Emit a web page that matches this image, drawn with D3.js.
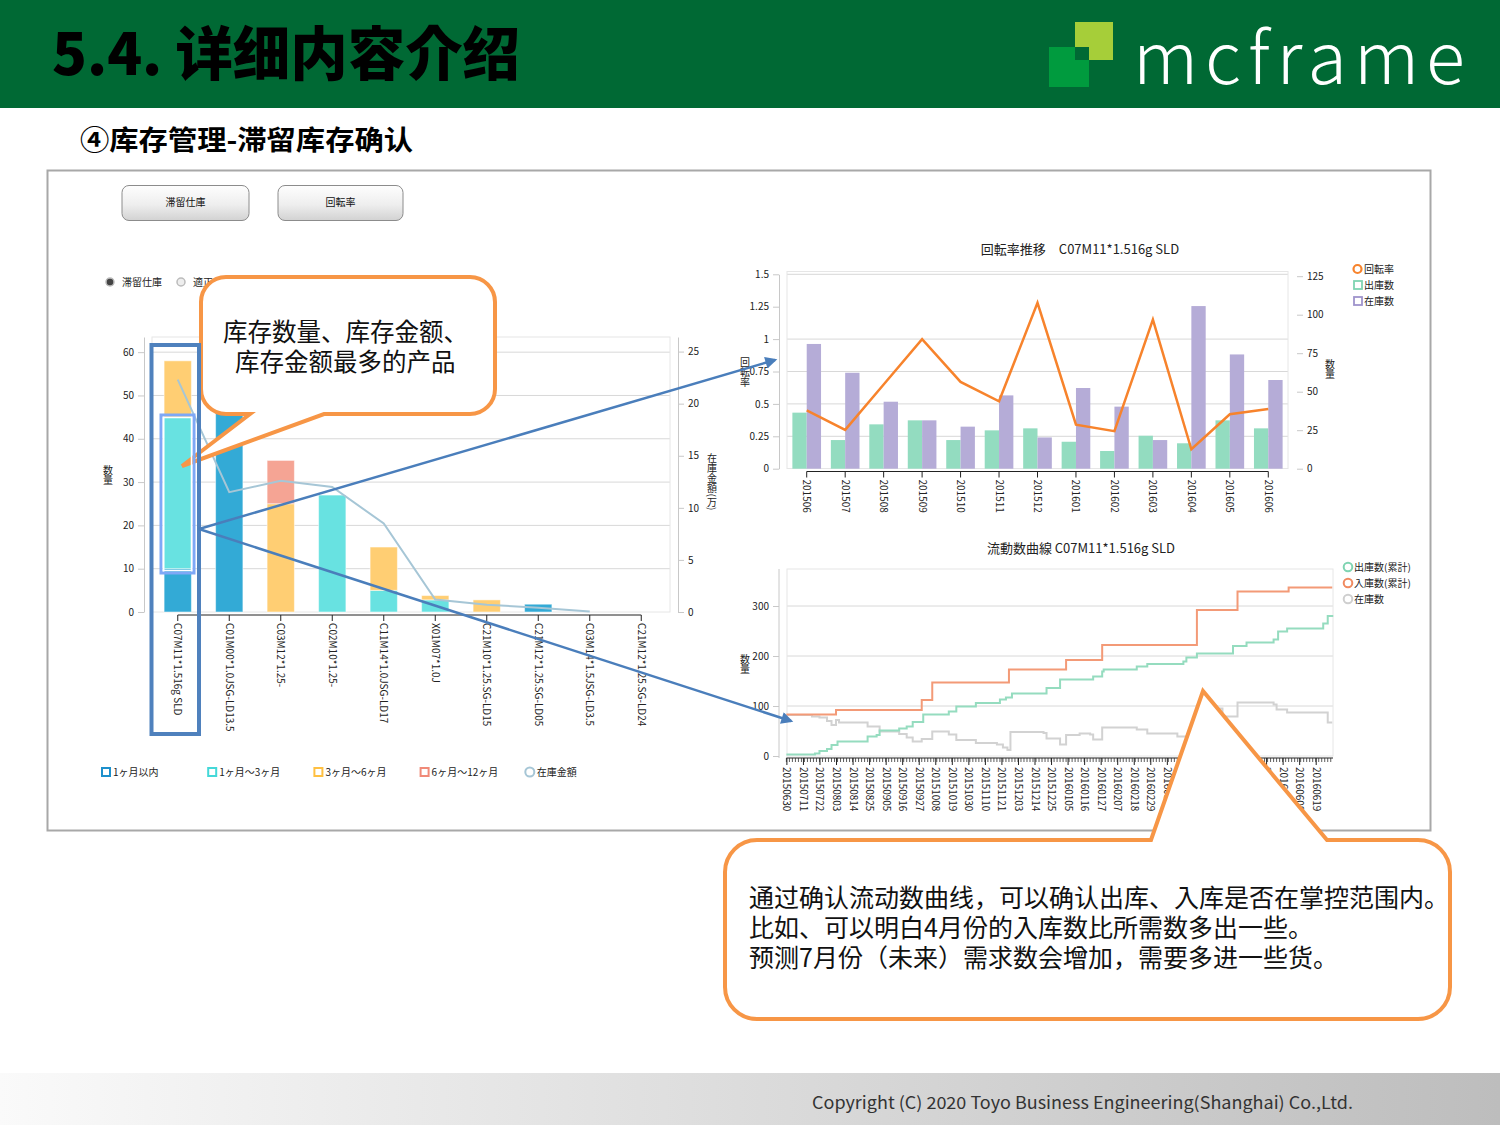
<!DOCTYPE html>
<html><head><meta charset="utf-8">
<script src="https://cdn.jsdelivr.net/npm/d3@7"></script>
<style>
html,body{margin:0;padding:0;background:#fff;}
svg{display:block;}
text{font-family:"Noto Sans CJK JP","Noto Sans CJK SC",sans-serif;}
</style></head><body>
<svg id="c" width="1500" height="1125"></svg>
<script>
// ================= DATA =================
// Left chart: 滞留在庫 (stacked by age) + 在庫金額 line
const stockCats = ["C07M11*1.516g SLD","C01M00*1.0JSG-LD13.5","C03M12*1.25-","C02M10*1.25-","C11M14*1.0JSG-LD17","X01M07*1.0J","C21M10*1.25.SG-LD15","C21M12*1.25.SG-LD05","C03M14*1.5JSG-LD3.5","C21M12*1.25.SG-LD24"];
const stockWithin1 = [10, 47, 0, 0, 0, 0, 0, 1.8, 0, 0];
const stock1to3   = [35, 0, 0, 27, 5, 2.8, 0, 0, 0, 0];
const stock3to6   = [13, 0, 25, 0, 10, 1.0, 2.8, 0, 0, 0];
const stock6to12  = [0, 0, 10, 0, 0, 0, 0, 0, 0, 0];
const stockAmount = [22.3, 11.5, 12.6, 12.0, 8.5, 1.2, 0.7, 0.4, 0.05, null];
const stockSeries = ["1ヶ月以内","1ヶ月～3ヶ月","3ヶ月～6ヶ月","6ヶ月～12ヶ月"];
const stockLineName = "在庫金額";
const qtyTicks = [0,10,20,30,40,50,60];
const amountTicks = [0,5,10,15,20,25];

// Top-right chart: 回転率推移
const months = ["201506","201507","201508","201509","201510","201511","201512","201601","201602","201603","201604","201605","201606"];
const shipped = [36.4, 18.6, 28.8, 31.4, 18.6, 24.9, 26.2, 17.5, 11.5, 21.4, 16.5, 31.4, 26.2];
const onHand  = [81, 62.3, 43.5, 31.4, 27.3, 47.6, 20.3, 52.4, 40.3, 18.6, 105.6, 74.2, 57.6];
const turnover = [0.45, 0.30, 0.65, 1.0, 0.67, 0.52, 1.28, 0.34, 0.29, 1.15, 0.15, 0.42, 0.46];
const rateTicks = [0,0.25,0.5,0.75,1,1.25,1.5];
const rateGrid = [0.25,0.5,0.75,1,1.5];
const monthQtyTicks = [0,25,50,75,100,125];
const turnSeries = ["回転率","出庫数","在庫数"];

// Bottom-right chart: 流動数曲線 (day index from 20150630)
const flowTickLabels = ["20150630","20150711","20150722","20150803","20150814","20150825","20150905","20150916","20150927","20151008","20151019","20151030","20151110","20151121","20151203","20151214","20151225","20160105","20160116","20160127","20160207","20160218","20160229","20160311","20160322","20160402","20160413","20160424","20160505","20160516","20160527","20160608","20160619"];
const inboundDays = [0,33,90,97,148,186,210,273,300,334,363];
const inboundCum  = [83,92,112,147,173,192,222,292,329,337,337];
const outboundDays = [0,19,22,27,30,34,54,60,62,75,80,84,91,108,113,126,142,146,150,173,182,204,210,211,233,240,264,266,273,297,306,324,327,333,357,360,363];
const outboundCum  = [3,5,10,14,22,29,39,42,51,55,59,68,83,89,99,106,113,117,125,136,153,159,169,173,179,184,189,197,205,220,227,233,249,255,265,280,282];
const stockDays = [0,17,22,27,30,33,35,54,62,75,80,84,90,97,108,113,126,140,144,147,149,171,173,182,186,195,202,204,210,233,240,260,266,273,290,300,324,326,333,357,360,363];
const stockQty  = [82,79,77,70,62,72,67,59,49,44,37,29,34,49,43,32,26,23,17,12,48,46,35,23,42,45,43,33,57,53,45,39,37,95,79,107,103,93,87,87,67,67];
const flowTicks = [0,100,200,300];
const flowSeries = ["出庫数(累計)","入庫数(累計)","在庫数"];

// ================= DRAW =================
const svg = d3.select("#c");
const defs = svg.append("defs");
const fg = defs.append("linearGradient").attr("id","footG").attr("x1",0).attr("x2",1).attr("y1",0).attr("y2",0);
fg.append("stop").attr("offset","0").attr("stop-color","#FAFAFA");
fg.append("stop").attr("offset","1").attr("stop-color","#BDBDBD");
const bgr = defs.append("linearGradient").attr("id","btnG").attr("x1",0).attr("x2",0).attr("y1",0).attr("y2",1);
bgr.append("stop").attr("offset","0").attr("stop-color","#FEFEFE");
bgr.append("stop").attr("offset","0.55").attr("stop-color","#EEEEEE");
bgr.append("stop").attr("offset","1").attr("stop-color","#D2D2D2");
defs.append("marker").attr("id","arr").attr("viewBox","0 0 10 10").attr("refX",8).attr("refY",5)
  .attr("markerWidth",15).attr("markerHeight",12).attr("markerUnits","userSpaceOnUse").attr("orient","auto")
  .append("path").attr("d","M0,0L10,5L0,10z").attr("fill","#4A7EBB");

// header
svg.append("rect").attr("width",1500).attr("height",108).attr("fill","#006934");
svg.append("text").attr("x",52).attr("y",75).attr("font-size",58).attr("font-weight",900)
  .attr("font-family",'"Noto Sans CJK SC",sans-serif').attr("fill","#000")
  .attr("textLength",468).attr("lengthAdjust","spacingAndGlyphs").text("5.4. 详细内容介绍");
svg.append("rect").attr("x",1075).attr("y",22).attr("width",38).attr("height",38).attr("fill","#A6CE39");
svg.append("rect").attr("x",1049).attr("y",47).attr("width",40).attr("height",40).attr("fill","#009B3E");
svg.append("rect").attr("x",1075).attr("y",47).attr("width",14).attr("height",13).attr("fill","#006934");
svg.append("text").attr("x",1133).attr("y",84).attr("font-size",72).attr("font-weight",300)
  .attr("font-family",'"Open Sans","Lato",sans-serif').attr("fill","#fff")
  .attr("letter-spacing",7).text("mcframe");

// subtitle
svg.append("text").attr("x",80).attr("y",150).attr("font-size",27).attr("font-weight",700)
  .attr("font-family",'"Noto Sans CJK SC",sans-serif').attr("fill","#000")
  .attr("textLength",333).attr("lengthAdjust","spacingAndGlyphs").text("④库存管理-滞留库存确认");

// frame
svg.append("rect").attr("x",47.5).attr("y",170.5).attr("width",1383).attr("height",660)
  .attr("fill","#fff").attr("stroke","#A8A8A8").attr("stroke-width",2);

// buttons
[["滞留仕庫",122,127],["回転率",278,125]].forEach(([t,x,w])=>{
  svg.append("rect").attr("x",x).attr("y",185.5).attr("width",w).attr("height",35).attr("rx",7)
    .attr("fill","url(#btnG)").attr("stroke","#8C8C8C");
  svg.append("text").attr("x",x+w/2).attr("y",206).attr("text-anchor","middle").attr("font-size",10).attr("fill","#111").text(t);
});
// radios
svg.append("circle").attr("cx",110).attr("cy",282).attr("r",4).attr("fill","#444").attr("stroke","#bbb").attr("stroke-width",1.5);
svg.append("text").attr("x",122).attr("y",286).attr("font-size",10).attr("fill","#222").text("滞留仕庫");
svg.append("circle").attr("cx",181).attr("cy",282).attr("r",4).attr("fill","#eee").attr("stroke","#bbb").attr("stroke-width",1.5);
svg.append("text").attr("x",193).attr("y",286).attr("font-size",10).attr("fill","#222").text("適正在庫");

function styleAxis(g, lineColor, fs){
  g.attr("font-family",'"Noto Sans CJK JP",sans-serif').attr("font-size",fs||10);
  g.selectAll(".domain").attr("stroke",lineColor);
  g.selectAll(".tick line").attr("stroke",lineColor);
  g.selectAll(".tick text").attr("fill","#222");
}
// vertical (upright CJK) text
function vtext(x, y, str, size){
  return svg.append("text").attr("x",x).attr("y",y).style("writing-mode","vertical-rl")
    .attr("text-anchor","middle").attr("font-size",size).attr("fill","#222").text(str);
}

// ---------- LEFT CHART ----------
const gL = svg.append("g");
const xL = d3.scaleBand().domain(stockCats).range([152,667]).paddingInner(0.47).paddingOuter(0.235);
const bwL = xL.bandwidth();
const yL = d3.scaleLinear().domain([0,63.5]).range([612,337]);
const yA = d3.scaleLinear().domain([0,26.4]).range([612,337]);
gL.selectAll(".gl").data(qtyTicks.filter(d=>d>0)).join("line")
  .attr("x1",152).attr("x2",670).attr("y1",d=>yL(d)).attr("y2",d=>yL(d)).attr("stroke","#D8D8D8");
gL.append("rect").attr("x",152).attr("y",337).attr("width",518).attr("height",275).attr("fill","none").attr("stroke","#E6E6E6");
const axL = gL.append("g").attr("transform","translate(144,0)")
  .call(d3.axisLeft(yL).tickValues(qtyTicks).tickSize(6).tickSizeOuter(0).tickPadding(4));
styleAxis(axL,"#C8C8C8");
const axA = gL.append("g").attr("transform","translate(678,0)")
  .call(d3.axisRight(yA).tickValues(amountTicks).tickSize(6).tickSizeOuter(0).tickPadding(4));
styleAxis(axA,"#C8C8C8");
vtext(108, 475, "数量", 10);
vtext(712, 482, "在庫金額(万)", 10);

const stockTable = stockCats.map((c,i)=>({cat:c,
  [stockSeries[0]]:stockWithin1[i],[stockSeries[1]]:stock1to3[i],
  [stockSeries[2]]:stock3to6[i],[stockSeries[3]]:stock6to12[i]}));
const stacked = d3.stack().keys(stockSeries)(stockTable);
const stockColors = ["#33AAD6","#68E2E1","#FFCE73","#F5A494"];
const legColors = ["#1E90CC","#44D8D8","#FFC042","#F08A78"];
gL.selectAll(".ser").data(stacked).join("g").attr("fill",(d,i)=>stockColors[i])
  .selectAll("rect").data(d=>d.filter(p=>p[1]-p[0]>0)).join("rect")
  .attr("x",d=>xL(d.data.cat)).attr("width",bwL)
  .attr("y",d=>yL(d[1])).attr("height",d=>yL(d[0])-yL(d[1]))
  .attr("stroke","#fff").attr("stroke-opacity",0.5).attr("stroke-width",1);
const amtLine = d3.line().defined(d=>d.v!=null).x(d=>xL(d.c)+bwL/2).y(d=>yA(d.v));
gL.append("path").datum(stockCats.map((c,i)=>({c,v:stockAmount[i]}))).attr("d",amtLine)
  .attr("fill","none").attr("stroke","#A6C6D6").attr("stroke-width",2);
const axXL = gL.append("g").attr("transform","translate(0,615)").call(d3.axisBottom(xL).tickSize(6).tickSizeOuter(0));
axXL.select(".domain").remove();
styleAxis(axXL,"#222");
axXL.selectAll(".tick text").attr("transform","rotate(90)").attr("x",8).attr("y",0).attr("dy","0.35em").style("text-anchor","start");
gL.append("line").attr("x1",xL(stockCats[0])+bwL/2).attr("x2",xL(stockCats[stockCats.length-1])+bwL/2)
  .attr("y1",615).attr("y2",615).attr("stroke","#222");
// legend
const legL = gL.selectAll(".lg").data([...stockSeries, stockLineName]).join("g")
  .attr("transform",(d,i)=>`translate(${101+i*106.2},772)`);
legL.each(function(d,i){
  const g = d3.select(this);
  if(i<4) g.append("rect").attr("x",1).attr("y",-4).attr("width",8).attr("height",8).attr("fill","none").attr("stroke",legColors[i]).attr("stroke-width",2);
  else g.append("circle").attr("cx",4).attr("cy",0).attr("r",4.5).attr("fill","none").attr("stroke","#A6C6D6").attr("stroke-width",2);
  g.append("text").attr("x",i<4?12:11).attr("y",4).attr("font-size",10).attr("fill","#222").text(d);
});

// ---------- TOP-RIGHT CHART ----------
const gT = svg.append("g");
const xM = d3.scaleBand().domain(months).range([787,1288]).paddingInner(0.255).paddingOuter(0.14);
const bwM = xM.bandwidth();
const xSub = d3.scaleBand().domain(["out","on"]).range([0,bwM]);
const yRate = d3.scaleLinear().domain([0,1.5]).range([468.7,274.3]);
const yQty = d3.scaleLinear().domain([0,125]).range([468.7,276.2]);
gT.append("text").attr("x",1080).attr("y",254).attr("text-anchor","middle").attr("font-size",13).attr("fill","#222")
  .text("回転率推移　C07M11*1.516g SLD");
gT.selectAll(".gr").data(rateGrid).join("line").attr("x1",787).attr("x2",1288)
  .attr("y1",d=>yRate(d)).attr("y2",d=>yRate(d)).attr("stroke","#D8D8D8");
gT.append("rect").attr("x",787).attr("y",271.5).attr("width",501).attr("height",197).attr("fill","none").attr("stroke","#E6E6E6");
const axR = gT.append("g").attr("transform","translate(779,0)")
  .call(d3.axisLeft(yRate).tickValues(rateTicks).tickFormat(d=>String(d)).tickSize(6).tickSizeOuter(0).tickPadding(4));
styleAxis(axR,"#C8C8C8");
const axQ = gT.append("g").attr("transform","translate(1297,0)")
  .call(d3.axisRight(yQty).tickValues(monthQtyTicks).tickSize(6).tickSizeOuter(0).tickPadding(4));
axQ.select(".domain").remove();
styleAxis(axQ,"#C8C8C8");
vtext(745, 372, "回転率", 10);
vtext(1330, 369, "数量", 10);
gT.selectAll(".bs").data(months).join("rect").attr("x",d=>xM(d)+xSub("out")).attr("width",xSub.bandwidth())
  .attr("y",(d,i)=>yQty(shipped[i])).attr("height",(d,i)=>yQty(0)-yQty(shipped[i])).attr("fill","#93DCC0");
gT.selectAll(".bo").data(months).join("rect").attr("x",d=>xM(d)+xSub("on")).attr("width",xSub.bandwidth())
  .attr("y",(d,i)=>yQty(onHand[i])).attr("height",(d,i)=>yQty(0)-yQty(onHand[i])).attr("fill","#B5ACD7");
gT.append("path").datum(months.map((m,i)=>({m,v:turnover[i]})))
  .attr("d",d3.line().x(d=>xM(d.m)+bwM/2).y(d=>yRate(d.v)))
  .attr("fill","none").attr("stroke","#F7832C").attr("stroke-width",2.5);
const axXM = gT.append("g").attr("transform","translate(0,471.5)").call(d3.axisBottom(xM).tickSize(6).tickSizeOuter(0));
axXM.select(".domain").remove();
styleAxis(axXM,"#222");
axXM.selectAll(".tick text").attr("transform","rotate(90)").attr("x",8).attr("y",0).attr("dy","0.35em").style("text-anchor","start");
gT.append("line").attr("x1",xM(months[0])+bwM/2).attr("x2",xM(months[months.length-1])+bwM/2)
  .attr("y1",471.5).attr("y2",471.5).attr("stroke","#222");
const legT = gT.selectAll(".lt").data(turnSeries).join("g").attr("transform",(d,i)=>`translate(1353,${269+i*16})`);
legT.each(function(d,i){
  const g = d3.select(this);
  if(i===0) g.append("circle").attr("cx",4.5).attr("cy",0).attr("r",4).attr("fill","none").attr("stroke","#F7832C").attr("stroke-width",2.2);
  else g.append("rect").attr("x",1).attr("y",-4).attr("width",8).attr("height",8).attr("fill","none")
      .attr("stroke",i===1?"#7FD4B2":"#9F94CC").attr("stroke-width",1.8);
  g.append("text").attr("x",11).attr("y",4).attr("font-size",10).attr("fill","#222").text(d);
});

// ---------- BOTTOM-RIGHT CHART ----------
const gB = svg.append("g");
const xF = d3.scaleLinear().domain([0,352]).range([786.4,1315.7]);
const yF = d3.scaleLinear().domain([0,300]).range([756,606]);
gB.append("text").attr("x",1081).attr("y",553).attr("text-anchor","middle").attr("font-size",13).attr("fill","#222")
  .text("流動数曲線 C07M11*1.516g SLD");
gB.selectAll(".gf").data(flowTicks.filter(d=>d>0)).join("line").attr("x1",787).attr("x2",1333)
  .attr("y1",d=>yF(d)).attr("y2",d=>yF(d)).attr("stroke","#D8D8D8");
gB.append("rect").attr("x",787).attr("y",569).attr("width",546).attr("height",187).attr("fill","none").attr("stroke","#E6E6E6");
const axF = gB.append("g").attr("transform","translate(779,0)")
  .call(d3.axisLeft(yF).tickValues(flowTicks).tickSize(6).tickSizeOuter(0).tickPadding(4));
axF.select(".domain").remove();
styleAxis(axF,"#C8C8C8");
gB.append("line").attr("x1",779).attr("x2",779).attr("y1",569).attr("y2",758).attr("stroke","#C8C8C8");
vtext(745, 664, "数量", 10);
const stepLine = d3.line().x(d=>xF(d[0])).y(d=>yF(d[1])).curve(d3.curveStepAfter);
const flows = [
  {days:stockDays, vals:stockQty, color:"#D2D2D2"},
  {days:outboundDays, vals:outboundCum, color:"#95DCBF"},
  {days:inboundDays, vals:inboundCum, color:"#F39A77"}
];
flows.forEach(f=>{
  gB.append("path").datum(f.days.map((d,i)=>[d,f.vals[i]])).attr("d",stepLine)
    .attr("fill","none").attr("stroke",f.color).attr("stroke-width",2);
});
// x axis: minor ticks + labelled ticks
gB.append("line").attr("x1",786.4).attr("x2",1333).attr("y1",758).attr("y2",758).attr("stroke","#222");
const minorDays = d3.range(0,364,2);
gB.selectAll(".mt").data(minorDays).join("line").attr("x1",d=>xF(d)).attr("x2",d=>xF(d))
  .attr("y1",758).attr("y2",762).attr("stroke","#333").attr("stroke-width",0.8);
const axXF = gB.append("g").attr("transform","translate(0,758)")
  .call(d3.axisBottom(xF).tickValues(flowTickLabels.map((d,i)=>i*11)).tickFormat((d,i)=>flowTickLabels[i]).tickSize(7).tickSizeOuter(0));
axXF.select(".domain").remove();
styleAxis(axXF,"#222");
axXF.selectAll(".tick text").attr("transform","rotate(90)").attr("x",9).attr("y",0).attr("dy","0.35em").style("text-anchor","start");
const flowColors = ["#7FD4B2","#F08A60","#CFCFCF"];
const legB = gB.selectAll(".lb").data(flowSeries).join("g").attr("transform",(d,i)=>`translate(1348,${567+i*16})`);
legB.each(function(d,i){
  const g = d3.select(this);
  g.append("circle").attr("cx",0).attr("cy",0).attr("r",4.3).attr("fill","none").attr("stroke",flowColors[i]).attr("stroke-width",2);
  g.append("text").attr("x",6).attr("y",4).attr("font-size",10).attr("fill","#222").text(d);
});

// ---------- ANNOTATIONS ----------
const orange = "#F79646";
// callout 1
(function(){
  const x0=201,x1=495,y0=277,y1=414,r=25;
  const p = d3.path();
  p.moveTo(x0+r,y0); p.lineTo(x1-r,y0); p.arcTo(x1,y0,x1,y0+r,r); p.lineTo(x1,y1-r); p.arcTo(x1,y1,x1-r,y1,r);
  p.lineTo(324,y1); p.lineTo(182,466); p.lineTo(250,y1);
  p.lineTo(x0+r,y1); p.arcTo(x0,y1,x0,y1-r,r); p.lineTo(x0,y0+r); p.arcTo(x0,y0,x0+r,y0,r); p.closePath();
  svg.append("path").attr("d",p.toString()).attr("fill","#fff").attr("stroke",orange).attr("stroke-width",4).attr("stroke-linejoin","miter");
  const t = svg.append("text").attr("font-size",24.5).attr("fill","#111").attr("font-family",'"Noto Sans CJK SC",sans-serif');
  t.append("tspan").attr("x",223).attr("y",341).text("库存数量、库存金额、");
  t.append("tspan").attr("x",235).attr("y",371).text("库存金额最多的产品");
})();
// selection highlight rects
svg.append("rect").attr("x",161).attr("y",415).attr("width",33).attr("height",158).attr("fill","none").attr("stroke","#7FA8F6").attr("stroke-width",3);
svg.append("rect").attr("x",163.5).attr("y",417.5).attr("width",28).attr("height",153).attr("fill","none").attr("stroke","#fff").attr("stroke-width",1.5);
svg.append("rect").attr("x",151.5).attr("y",345).attr("width",47.5).attr("height",389).attr("fill","none").attr("stroke","#4F81BD").attr("stroke-width",4);
// arrows
svg.append("line").attr("x1",199).attr("y1",529).attr("x2",775).attr("y2",360).attr("stroke","#4A7EBB").attr("stroke-width",2.5).attr("marker-end","url(#arr)");
svg.append("line").attr("x1",199).attr("y1",529).attr("x2",791).attr("y2",721).attr("stroke","#4A7EBB").attr("stroke-width",2.5).attr("marker-end","url(#arr)");
// callout 2
(function(){
  const x0=725,x1=1450,y0=840,y1=1019,r=32;
  const p = d3.path();
  p.moveTo(x0+r,y0); p.lineTo(1151,y0); p.lineTo(1203,691); p.lineTo(1327,y0);
  p.lineTo(x1-r,y0); p.arcTo(x1,y0,x1,y0+r,r); p.lineTo(x1,y1-r); p.arcTo(x1,y1,x1-r,y1,r);
  p.lineTo(x0+r,y1); p.arcTo(x0,y1,x0,y1-r,r); p.lineTo(x0,y0+r); p.arcTo(x0,y0,x0+r,y0,r); p.closePath();
  svg.append("path").attr("d",p.toString()).attr("fill","#fff").attr("stroke",orange).attr("stroke-width",4).attr("stroke-linejoin","miter");
  const lines = ["通过确认流动数曲线，可以确认出库、入库是否在掌控范围内。","比如、可以明白4月份的入库数比所需数多出一些。","预测7月份（未来）需求数会增加，需要多进一些货。"];
  const t = svg.append("text").attr("font-size",25).attr("fill","#111").attr("font-family",'"Noto Sans CJK SC",sans-serif');
  lines.forEach((s,i)=>t.append("tspan").attr("x",749).attr("y",907+i*30).text(s));
})();

// footer
svg.append("rect").attr("x",0).attr("y",1073).attr("width",1500).attr("height",52).attr("fill","url(#footG)");
svg.append("text").attr("x",812).attr("y",1109).attr("font-size",17).attr("fill","#333")
  .attr("font-family",'"Noto Sans","Liberation Sans",sans-serif')
  .attr("textLength",541).attr("lengthAdjust","spacingAndGlyphs")
  .text("Copyright (C) 2020 Toyo Business Engineering(Shanghai) Co.,Ltd.");
</script></body></html>
